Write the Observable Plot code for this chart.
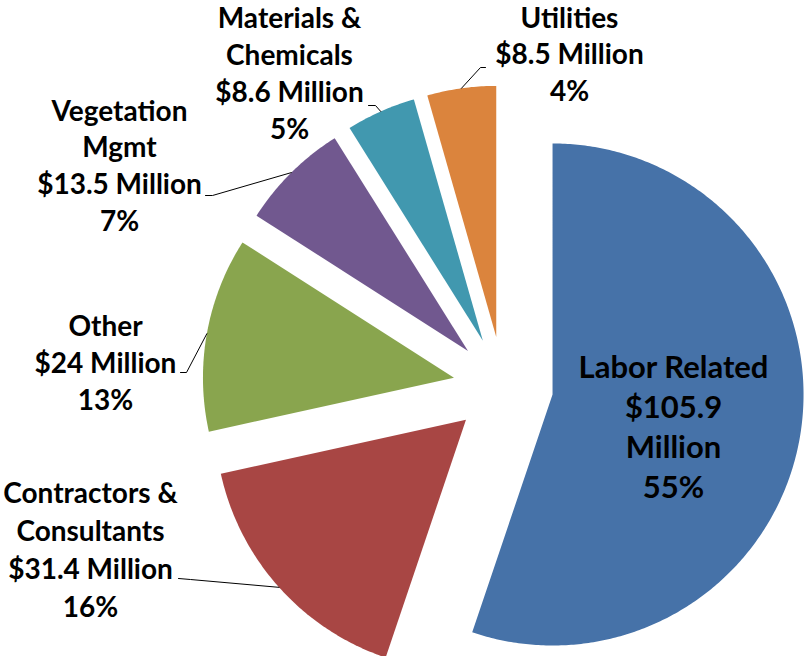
<!DOCTYPE html>
<html>
<head>
<meta charset="utf-8">
<script src="https://cdn.jsdelivr.net/npm/d3@7"></script>
<script src="https://cdn.jsdelivr.net/npm/@observablehq/plot@0.6"></script>
<style>
  html, body { margin: 0; padding: 0; background: #fff; }
  #chart svg { display: block; }
</style>
</head>
<body>
<div id="chart"></div>
<script>
// ---- Data ----
const categories = ["Labor Related", "Contractors & Consultants", "Other", "Vegetation Mgmt", "Materials & Chemicals", "Utilities"];
const values = [105.9, 31.4, 24, 13.5, 8.6, 8.5];
const percentLabels = ["55%", "16%", "13%", "7%", "5%", "4%"];
const nameLines = [["Labor Related"], ["Contractors &", "Consultants"], ["Other"], ["Vegetation", "Mgmt"], ["Materials &", "Chemicals"], ["Utilities"]];
const colors = ["#4672A8", "#A84644", "#89A54E", "#71588F", "#4198AF", "#DB843D"];

// ---- Layout (not data) ----
const W = 804, H = 656;
const center = [502.7, 385.9], radius = 251, explode = 50;
// label anchor: centre x, first baseline y, line gap, font size
const labelLayout = [
  [673, 377, 40.3, 31],
  [90, 502, 38.3, 28],
  [105, 335, 37, 28],
  [119, 120, 36.7, 28],
  [289, 27, 37, 28],
  [569, 27, 36.5, 28]
];
// leader line start (at label) and elbow
const leaderLayout = [
  null,
  [[178, 578], [190, 579]],
  [[180, 372], [186, 372]],
  [[205, 195], [212, 195]],
  [[368, 105], [375, 105]],
  [[485, 67], [480, 67]]
];

// ---- Geometry from data via d3.pie ----
const arcs = d3.pie().sort(null).value(d => d)(values);
const polys = [];
const arcMid = [];
arcs.forEach((a, i) => {
  const mid = (a.startAngle + a.endAngle) / 2;
  const vx = center[0] + explode * Math.sin(mid);
  const vy = center[1] - explode * Math.cos(mid);
  polys.push({cat: categories[i], x: vx, y: vy});
  const n = Math.max(8, Math.ceil((a.endAngle - a.startAngle) / 0.01));
  for (let k = 0; k <= n; k++) {
    const t = a.startAngle + (a.endAngle - a.startAngle) * k / n;
    polys.push({cat: categories[i], x: vx + radius * Math.sin(t), y: vy - radius * Math.cos(t)});
  }
  polys.push({cat: categories[i], x: vx, y: vy});
  arcMid.push([vx + radius * Math.sin(mid), vy - radius * Math.cos(mid)]);
});

// label lines
const labelRows = [];
categories.forEach((c, i) => {
  const v = values[i];
  const money = "$" + v + " Million";
  let lines;
  if (i === 0) lines = [...nameLines[i], "$" + v, "Million", percentLabels[i]];
  else lines = [...nameLines[i], money, percentLabels[i]];
  const [lx, ly, gap, fs] = labelLayout[i];
  lines.forEach((t, j) => labelRows.push({text: t, x: lx, y: ly + j * gap, fs}));
});

// leader lines
const leaders = [];
categories.forEach((c, i) => {
  const L = leaderLayout[i];
  if (!L) return;
  leaders.push({cat: c, x: L[0][0], y: L[0][1]});
  leaders.push({cat: c, x: L[1][0], y: L[1][1]});
  leaders.push({cat: c, x: arcMid[i][0], y: arcMid[i][1]});
});

const chart = Plot.plot({
  width: W,
  height: H,
  margin: 0,
  x: {domain: [0, W], range: [0, W], axis: null},
  y: {domain: [0, H], range: [0, H], axis: null},
  color: {domain: categories, range: colors},
  style: {background: "#fff", fontFamily: "Lato, 'Open Sans', sans-serif"},
  marks: [
    Plot.line(polys, {x: "x", y: "y", z: "cat", fill: "cat", stroke: null, curve: "linear"}),
    Plot.line(leaders, {x: "x", y: "y", z: "cat", stroke: "#000", strokeWidth: 1, curve: "linear"}),
    Plot.text(labelRows, {x: "x", y: "y", text: "text", lineAnchor: "bottom", textAnchor: "middle",
      fontSize: d => d.fs, fontWeight: "bold", fill: "#000"})
  ]
});
document.getElementById("chart").appendChild(chart);
</script>
</body>
</html>
